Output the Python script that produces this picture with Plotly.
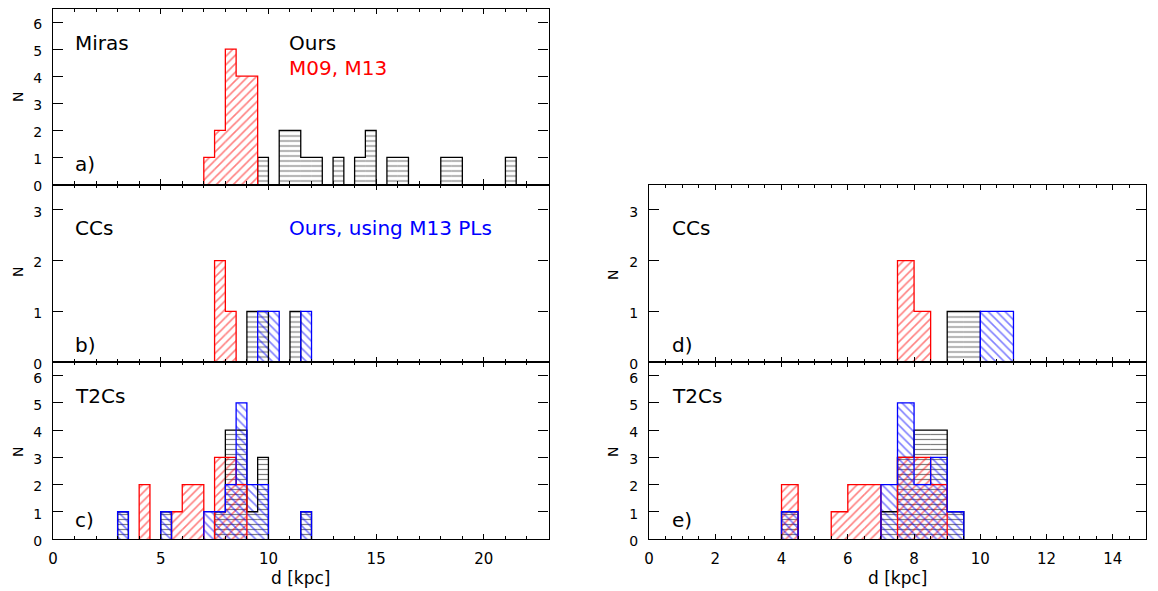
import numpy as np
import plotly.graph_objects as go

W, H = 1158, 591
OX, OY = 8, 8          # page offset of the figure (default body margin)
BIN = 0.5

# ---------------- data (bin left edge [kpc], counts) ----------------
# a) Miras
miras_ours_d = [9.5, 10.5, 11.0, 11.5, 12.0, 13.0, 14.0, 14.5, 15.5, 16.0, 18.0, 18.5, 21.0]
miras_ours_n = [1, 2, 2, 1, 1, 1, 1, 2, 1, 1, 1, 1, 1]
miras_lit_d = [7.0, 7.5, 8.0, 8.5, 9.0]
miras_lit_n = [1, 2, 5, 4, 4]

# b) CCs
ccs_ours_d = [9.0, 9.5, 11.0]
ccs_ours_n = [1, 1, 1]
ccs_m13_d = [9.5, 10.0, 11.5]
ccs_m13_n = [1, 1, 1]
ccs_lit_d = [7.5, 8.0]
ccs_lit_n = [2, 1]

# c) T2Cs
t2c_ours_d = [3.0, 5.0, 7.5, 8.0, 8.5, 9.0, 9.5, 11.5]
t2c_ours_n = [1, 1, 1, 4, 4, 1, 3, 1]
t2c_m13_d = [3.0, 5.0, 7.0, 7.5, 8.0, 8.5, 9.0, 9.5, 11.5]
t2c_m13_n = [1, 1, 1, 1, 2, 5, 2, 2, 1]
t2c_lit_d = [4.0, 5.5, 6.0, 6.5, 7.5, 8.0, 8.5]
t2c_lit_n = [2, 1, 2, 2, 3, 3, 2]

# d) CCs (right)
ccs2_ours_d = [9.0, 9.5]
ccs2_ours_n = [1, 1]
ccs2_m13_d = [10.0, 10.5]
ccs2_m13_n = [1, 1]
ccs2_lit_d = [7.5, 8.0]
ccs2_lit_n = [2, 1]

# e) T2Cs (right)
t2c2_ours_d = [4.0, 7.0, 7.5, 8.0, 8.5, 9.0]
t2c2_ours_n = [1, 1, 3, 4, 4, 1]
t2c2_m13_d = [4.0, 7.0, 7.5, 8.0, 8.5, 9.0]
t2c2_m13_n = [1, 2, 5, 2, 3, 1]
t2c2_lit_d = [4.0, 5.5, 6.0, 6.5, 7.5, 8.0, 8.5]
t2c2_lit_n = [2, 1, 2, 2, 3, 3, 2]

LEFT_X = [0, 23]
RIGHT_X = [0, 15]

RED = "#ff0000"
BLUE = "#0000ff"
BLACK = "#000000"

STYLE = {
    "ours": dict(color=BLACK, shape="-", size=5, solidity=0.24),
    "lit": dict(color=RED, shape="/", size=6, solidity=0.26),
    "m13": dict(color=BLUE, shape="\\", size=6, solidity=0.26),
}

fig = go.Figure()


def add_hist(d, n, kind, xa, ya, xmax):
    st = STYLE[kind]
    centers = [v + BIN / 2 for v in d]
    fig.add_trace(go.Bar(
        x=centers, y=n, width=BIN, xaxis=xa, yaxis=ya,
        marker=dict(color="rgba(0,0,0,0)", line=dict(width=0),
                    pattern=dict(shape=st["shape"], fgcolor=st["color"],
                                 size=st["size"], solidity=st["solidity"],
                                 fillmode="overlay")),
        showlegend=False, hoverinfo="skip"))
    # step outline (one path per run of non-empty bins)
    edges = np.arange(0, xmax + BIN, BIN)
    counts = np.zeros(len(edges))
    for v, c in zip(d, n):
        counts[int(round(v / BIN))] = c
    xs, ys = [], []
    i = 0
    while i < len(counts):
        if counts[i] > 0:
            j = i
            xs += [edges[i]]
            ys += [0]
            while j < len(counts) and counts[j] > 0:
                xs += [edges[j], edges[j] + BIN]
                ys += [counts[j], counts[j]]
                j += 1
            xs += [edges[j - 1] + BIN, None]
            ys += [0, None]
            i = j
        else:
            i += 1
    fig.add_trace(go.Scatter(
        x=xs, y=ys, xaxis=xa, yaxis=ya, mode="lines",
        line=dict(color=st["color"], width=1.3),
        showlegend=False, hoverinfo="skip"))


# panel a
add_hist(miras_ours_d, miras_ours_n, "ours", "x", "y", 23)
add_hist(miras_lit_d, miras_lit_n, "lit", "x", "y", 23)
# panel b
add_hist(ccs_ours_d, ccs_ours_n, "ours", "x2", "y2", 23)
add_hist(ccs_lit_d, ccs_lit_n, "lit", "x2", "y2", 23)
add_hist(ccs_m13_d, ccs_m13_n, "m13", "x2", "y2", 23)
# panel c
add_hist(t2c_ours_d, t2c_ours_n, "ours", "x3", "y3", 23)
add_hist(t2c_lit_d, t2c_lit_n, "lit", "x3", "y3", 23)
add_hist(t2c_m13_d, t2c_m13_n, "m13", "x3", "y3", 23)
# panel d
add_hist(ccs2_ours_d, ccs2_ours_n, "ours", "x4", "y4", 15)
add_hist(ccs2_lit_d, ccs2_lit_n, "lit", "x4", "y4", 15)
add_hist(ccs2_m13_d, ccs2_m13_n, "m13", "x4", "y4", 15)
# panel e
add_hist(t2c2_ours_d, t2c2_ours_n, "ours", "x5", "y5", 15)
add_hist(t2c2_lit_d, t2c2_lit_n, "lit", "x5", "y5", 15)
add_hist(t2c2_m13_d, t2c2_m13_n, "m13", "x5", "y5", 15)


def clamp(v):
    return max(0.0, min(1.0, v))


def px(x, y):
    return (x - OX) / W, 1 - (y - OY) / H


def xdom(l, r):
    return [clamp((l - OX) / W), clamp((r - OX) / W)]


def ydom(top, bot):
    return [clamp(1 - (bot - OY) / H), clamp(1 - (top - OY) / H)]


LDOM = xdom(53, 548.5)
RDOM = xdom(649, 1146)

TICKFONT = dict(family="DejaVu Sans", size=14, color="black")
XTICKFONT = dict(family="DejaVu Sans", size=15, color="black")


def xax(rng, dom, anchor, labels, dtick, minor):
    return dict(domain=dom, range=rng, anchor=anchor, showline=True, linecolor="black",
                linewidth=1.3, mirror="ticks", ticks="inside", ticklen=5, tickwidth=1.2,
                tickcolor="black", dtick=dtick, tick0=0, showticklabels=labels,
                showgrid=False, zeroline=False, tickfont=XTICKFONT, automargin=False,
                ticklabelstandoff=6,
                minor=dict(dtick=minor, tick0=0, ticks="inside", ticklen=3, tickwidth=1,
                           tickcolor="black", showgrid=False))


def yax(top, dom, anchor):
    return dict(domain=dom, range=[0, top], anchor=anchor, showline=True, linecolor="black",
                linewidth=1.3, mirror="ticks", ticks="inside", ticklen=10, tickwidth=1.2,
                tickcolor="black", tickvals=list(range(int(top) + 1)), showgrid=False,
                zeroline=False, tickfont=TICKFONT, ticklabelstandoff=7, ticklabelshift=2,
                automargin=False)


fig.update_layout(
    width=W, height=H, margin=dict(l=0, r=0, t=0, b=0, autoexpand=False),
    paper_bgcolor="white", plot_bgcolor="white", barmode="overlay",
    xaxis=xax(LEFT_X, LDOM, "y", False, 5, 1),
    yaxis=yax(6.5, ydom(8.5, 184.5), "x"),
    xaxis2=xax(LEFT_X, LDOM, "y2", False, 5, 1),
    yaxis2=yax(3.5, ydom(184.5, 362), "x2"),
    xaxis3=xax(LEFT_X, LDOM, "y3", True, 5, 1),
    yaxis3=yax(6.5, ydom(362, 539), "x3"),
    xaxis4=xax(RIGHT_X, RDOM, "y4", False, 2, 0.5),
    yaxis4=yax(3.5, ydom(184.5, 362), "x4"),
    xaxis5=xax(RIGHT_X, RDOM, "y5", True, 2, 0.5),
    yaxis5=yax(6.5, ydom(362, 539), "x5"),
)

TF = "DejaVu Sans"


def label(text, x, y, color="black", size=20, angle=0, xanchor="left"):
    ax, ay = px(x, y)
    fig.add_annotation(text=text, x=ax, y=ay, xref="paper", yref="paper",
                       xanchor=xanchor, yanchor="middle", showarrow=False,
                       textangle=angle, font=dict(family=TF, size=size, color=color))


label("Miras", 73, 43)
label("Ours", 287, 43)
label("M09, M13", 287, 68, color=RED)
label("a)", 73, 164)
label("CCs", 73, 228)
label("Ours, using M13 PLs", 287, 228, color=BLUE)
label("b)", 73, 345)
label("T2Cs", 73, 396)
label("c)", 73, 520)
label("CCs", 670, 228)
label("d)", 670, 345)
label("T2Cs", 670, 396)
label("e)", 670, 520)

for yy in (97, 272, 452):
    label("N", 18, yy, size=14, angle=-90, xanchor="center")
for yy in (275, 452):
    label("N", 613, yy, size=14, angle=-90, xanchor="center")

label("d [kpc]", 300, 578, size=17, xanchor="center")
label("d [kpc]", 897, 578, size=17, xanchor="center")

fig.write_html("out.html")
